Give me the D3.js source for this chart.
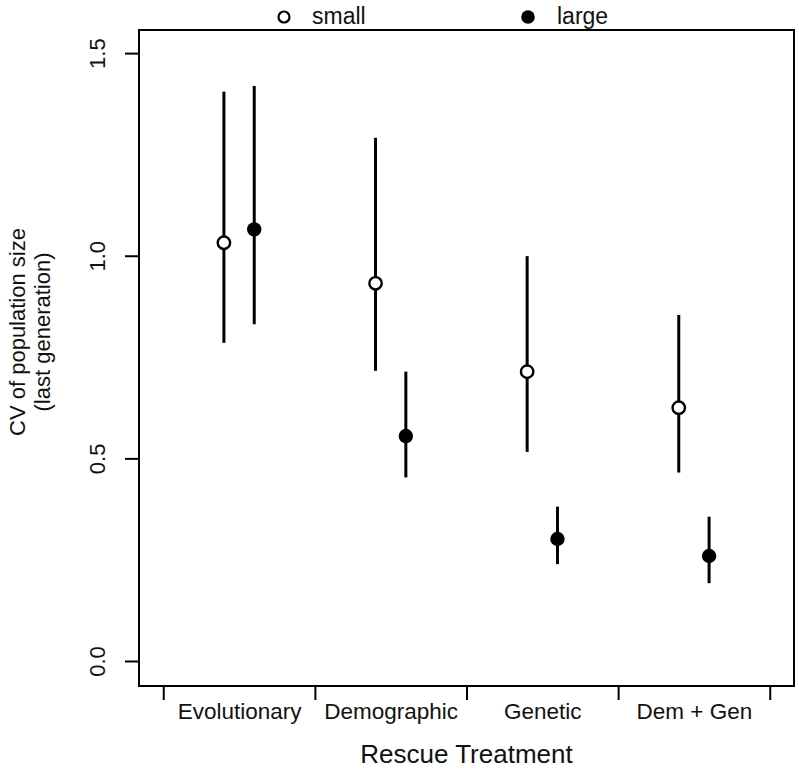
<!DOCTYPE html>
<html><head><meta charset="utf-8">
<script src="https://cdn.jsdelivr.net/npm/d3@7"></script>
<style>
html,body{margin:0;padding:0;background:#fff;}
svg{display:block;font-family:"Liberation Sans",Arial,Helvetica,sans-serif;}
</style></head>
<body><svg id="chart" width="799" height="770"></svg>
<script>
const categories = ["Evolutionary","Demographic","Genetic","Dem + Gen"];
const seriesNames = ["small","large"];
const smallMean  = [1.032, 0.932, 0.714, 0.625];
const smallLower = [0.785, 0.716, 0.516, 0.465];
const smallUpper = [1.405, 1.291, 0.999, 0.854];
const largeMean  = [1.065, 0.555, 0.301, 0.259];
const largeLower = [0.831, 0.453, 0.239, 0.192];
const largeUpper = [1.419, 0.714, 0.381, 0.356];
const yTicks = [0, 0.5, 1, 1.5];
const yTickLabels = ["0.0","0.5","1.0","1.5"];
const xBreaks = [0.5,1.5,2.5,3.5,4.5];

const svg = d3.select("#chart");
const L = 139, R = 794, T = 30, B = 686;
const x = d3.scaleLinear().domain([0.34, 4.66]).range([L, R]);
const y = d3.scaleLinear().domain([-0.0617, 1.557]).range([B, T]);

// box
svg.append("rect").attr("x", L).attr("y", T).attr("width", R-L).attr("height", B-T)
  .attr("fill","none").attr("stroke","#000").attr("stroke-width",2);

// y axis
const yAx = svg.append("g").attr("transform",`translate(${L},0)`)
  .call(d3.axisLeft(y).tickValues(yTicks).tickSize(14).tickFormat((d,i)=>yTickLabels[i]));
yAx.select(".domain").remove();
yAx.selectAll(".tick line").attr("stroke","#000").attr("stroke-width",2);
yAx.selectAll(".tick text").remove();
yAx.selectAll(".tick").append("text")
  .attr("transform","translate(-34,0) rotate(-90)")
  .attr("text-anchor","middle").attr("dy","0em")
  .attr("fill","#111").attr("font-size",22).text((d,i)=>yTickLabels[i]);

// x axis ticks
const xAx = svg.append("g").attr("transform",`translate(0,${B})`)
  .call(d3.axisBottom(x).tickValues(xBreaks).tickSize(14).tickFormat(""));
xAx.select(".domain").remove();
xAx.selectAll(".tick line").attr("stroke","#000").attr("stroke-width",2);
// x category labels
const xLab = svg.append("g").attr("transform",`translate(0,${B})`)
  .call(d3.axisBottom(x).tickValues([1,2,3,4]).tickSize(0).tickFormat((d,i)=>categories[i]));
xLab.select(".domain").remove();
xLab.selectAll(".tick text").attr("dy",0).attr("y",33).attr("fill","#111").attr("font-size",22.5)
  .attr("font-family","'Liberation Sans',Arial,sans-serif");

// axis titles
svg.append("text").attr("x", (x(2.5))).attr("y", 763).attr("text-anchor","middle")
  .attr("font-size",26).attr("fill","#111").text("Rescue Treatment");
svg.append("text").attr("transform","translate(25,332) rotate(-90)").attr("text-anchor","middle")
  .attr("font-size",22).attr("fill","#111").text("CV of population size");
svg.append("text").attr("transform","translate(50,332) rotate(-90)").attr("text-anchor","middle")
  .attr("font-size",22).attr("fill","#111").text("(last generation)");

// data
const data = [];
categories.forEach((c,i)=>{
  data.push({cat:i+1, off:-0.1, s:"small", m:smallMean[i], lo:smallLower[i], hi:smallUpper[i]});
  data.push({cat:i+1, off:0.1, s:"large", m:largeMean[i], lo:largeLower[i], hi:largeUpper[i]});
});
const g = svg.append("g");
g.selectAll("line.err").data(data).join("line").attr("class","err")
  .attr("x1",d=>x(d.cat+d.off)).attr("x2",d=>x(d.cat+d.off))
  .attr("y1",d=>y(d.lo)).attr("y2",d=>y(d.hi))
  .attr("stroke","#000").attr("stroke-width",3);
g.selectAll("circle.pt").data(data).join("circle").attr("class","pt")
  .attr("cx",d=>x(d.cat+d.off)).attr("cy",d=>y(d.m)).attr("r",d=>d.s==="small"?6.2:7.2)
  .attr("fill",d=>d.s==="small"?"#fff":"#000").attr("stroke","#000")
  .attr("stroke-width",d=>d.s==="small"?2.4:0);

// legend
const leg = [{name:seriesNames[0], cx:284, tx:312},{name:seriesNames[1], cx:528, tx:557}];
leg.forEach(l=>{
  svg.append("circle").attr("cx",l.cx).attr("cy",17).attr("r",l.name==="small"?5.5:6.8)
    .attr("fill",l.name==="small"?"#fff":"#000").attr("stroke","#000")
    .attr("stroke-width",l.name==="small"?2.2:0);
  svg.append("text").attr("x",l.tx).attr("y",24).attr("font-size",23).attr("fill","#111").text(l.name);
});
</script></body></html>
